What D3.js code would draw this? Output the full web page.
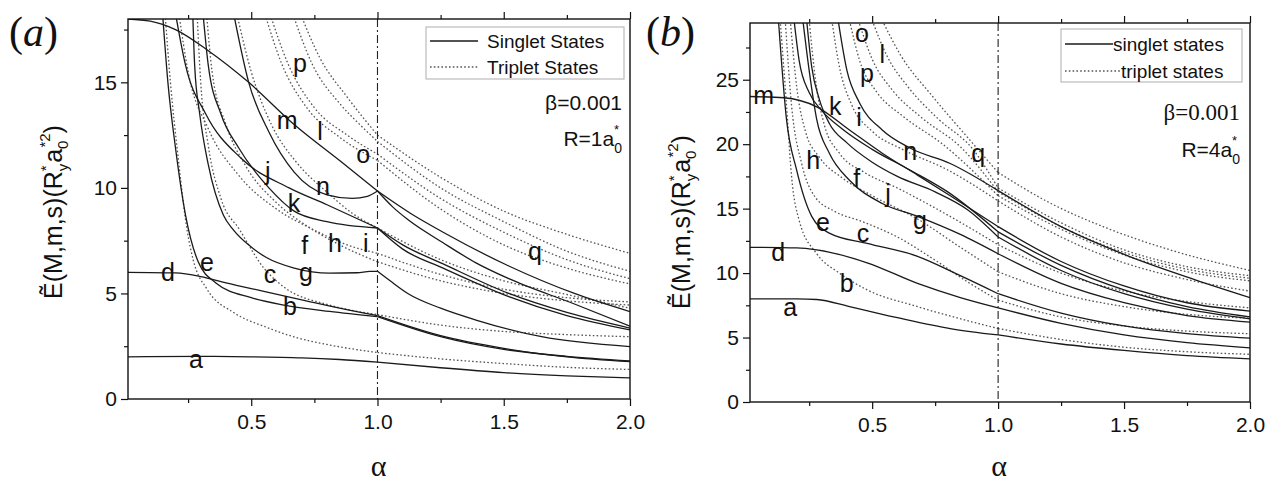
<!DOCTYPE html>
<html><head><meta charset="utf-8">
<script src="https://cdn.jsdelivr.net/npm/d3@7"></script>
<style>html,body{margin:0;padding:0;background:#fff;} svg{display:block}</style>
</head><body><svg id="c" width="1277" height="487"></svg>
<script>
// ---------- DATA ----------
const xMajorTicks = [0.5, 1.0, 1.5, 2.0];
const xMinorTicks = [0.25, 0.75, 1.25, 1.75];
const yTicksA = [0, 5, 10, 15];
const yMinorA = [2.5, 7.5, 12.5, 17.5];
const yTicksB = [0, 5, 10, 15, 20, 25];
const yMinorB = [2.5, 7.5, 12.5, 17.5, 22.5, 27.5];

// Panel (a): R = 1 a0*, singlet states (solid)
const singletA = [
 {id:'a', pts:[[0.012,2.0],[0.3,2.02],[0.5,2.0],[0.7,1.95],[0.85,1.87],[1.0,1.75],[1.25,1.48],[1.5,1.25],[1.75,1.1],[2.0,1.0]]},
 {id:'d', pts:[[0.012,6.0],[0.2,5.97],[0.3,5.8],[0.4,5.5],[0.55,5.1],[0.7,4.7],[0.85,4.3],[1.0,3.95],[1.25,3.0],[1.5,2.4],[1.75,2.0],[2.0,1.77]]},
 {id:'e', pts:[[0.148,18.4],[0.17,15],[0.2,11.9],[0.24,8.7],[0.29,6.5],[0.36,5.5],[0.5,4.8],[0.63,4.45],[0.81,4.15],[1.0,3.9],[1.25,2.95],[1.5,2.35],[1.75,2.02],[2.0,1.8]]},
 {id:'g', pts:[[0.268,18.4],[0.276,15.8],[0.296,13.5],[0.33,11.1],[0.39,8.7],[0.43,8.0],[0.5,7.2],[0.56,6.7],[0.67,6.2],[0.81,5.96],[0.92,5.98],[0.97,6.05],[1.0,6.05],[1.05,5.6],[1.12,5.0],[1.25,4.3],[1.39,3.74],[1.65,2.95],[2.0,2.48]]},
 {id:'j', pts:[[0.198,18.4],[0.24,15.8],[0.32,13.5],[0.46,11.4],[0.65,10.0],[0.8,9.2],[1.0,8.1],[1.1,7.3],[1.26,6.4],[1.52,5.0],[1.75,4.1],[2.0,3.36]]},
 {id:'k', pts:[[0.308,18.4],[0.33,15.8],[0.38,13.5],[0.45,11.9],[0.57,10.0],[0.67,8.9],[0.8,8.4],[1.0,8.1],[1.1,7.1],[1.26,6.2],[1.52,4.85],[1.75,3.95],[2.0,3.27]]},
 {id:'m', pts:[[0.012,18.0],[0.1,17.9],[0.2,17.5],[0.33,16.5],[0.49,15.0],[0.67,13.0],[0.86,11.2],[1.0,9.85],[1.13,8.8],[1.26,7.9],[1.52,6.3],[1.78,5.0],[2.0,4.14]]},
 {id:'n', pts:[[0.428,18.4],[0.49,15],[0.57,12.65],[0.67,10.75],[0.8,9.67],[0.9,9.5],[0.96,9.6],[1.0,9.85],[1.06,9.1],[1.12,8.5],[1.26,7.4],[1.39,6.45],[1.52,5.7],[1.78,4.5],[2.0,3.45]]}
];
// Panel (a): triplet states (dotted)
const tripletA = [
 {id:'b', pts:[[0.158,18.4],[0.18,15],[0.21,11.5],[0.246,8.0],[0.27,6.6],[0.325,5.2],[0.43,4.1],[0.56,3.4],[0.67,2.94],[0.81,2.56],[1.0,2.2],[1.25,1.9],[1.5,1.68],[1.75,1.5],[2.0,1.4]]},
 {id:'c', pts:[[0.285,18.4],[0.3,15],[0.33,12],[0.38,9.5],[0.455,8.0],[0.55,6.2],[0.63,5.3],[0.81,4.45],[1.0,4.0],[1.25,3.5],[1.5,3.2],[1.75,3.05],[2.0,2.95]]},
 {id:'f', pts:[[0.212,18.4],[0.25,15.5],[0.33,12.8],[0.45,10.6],[0.6,9.0],[0.75,8.0],[0.88,7.3],[1.0,6.9],[1.25,5.9],[1.5,5.2],[1.75,4.8],[2.0,4.6]]},
 {id:'h', pts:[[0.322,18.4],[0.345,15.5],[0.4,13.0],[0.48,11.0],[0.6,9.3],[0.72,8.2],[0.85,7.3],[1.0,6.5],[1.25,5.6],[1.5,5.0],[1.75,4.65],[2.0,4.45]]},
 {id:'i', pts:[[0.44,18.4],[0.5,15.5],[0.58,13.0],[0.68,11.2],[0.8,9.8],[0.9,8.8],[1.0,8.1],[1.25,6.6],[1.5,5.6],[1.75,4.95],[2.0,4.3]]},
 {id:'l', pts:[[0.55,18.4],[0.62,15.9],[0.72,13.8],[0.85,12.4],[1.0,11.3],[1.25,9.0],[1.5,7.3],[1.75,6.2],[2.0,5.45]]},
 {id:'o', pts:[[0.57,18.4],[0.645,15.9],[0.75,13.8],[0.88,12.5],[1.0,11.6],[1.25,9.5],[1.5,7.9],[1.75,6.6],[2.0,5.7]]},
 {id:'p', pts:[[0.66,18.4],[0.74,15.9],[0.85,14.0],[0.93,13.0],[1.0,12.2],[1.25,10.0],[1.5,8.4],[1.75,7.0],[2.0,6.05]]},
 {id:'q', pts:[[0.69,18.4],[0.77,16.2],[0.88,14.3],[1.0,12.5],[1.25,10.5],[1.5,8.9],[1.75,7.8],[2.0,6.9]]}
];
const labelsA = [['p',0.693,15.9],['m',0.642,13.2],['l',0.772,12.7],['o',0.943,11.6],['j',0.566,10.8],['n',0.784,10.1],['k',0.669,9.3],
 ['f',0.712,7.3],['h',0.832,7.4],['i',0.954,7.4],['c',0.574,5.9],['g',0.717,6.0],['e',0.325,6.5],['d',0.17,6.0],['b',0.653,4.4],['a',0.281,1.9],['q',1.624,7.0]];

// Panel (b): R = 4 a0*, singlet states (solid)
const singletB = [
 {id:'a', pts:[[0.015,8.0],[0.2,8.0],[0.28,7.95],[0.41,7.4],[0.61,6.5],[0.81,5.7],[1.0,5.2],[1.25,4.5],[1.5,4.0],[1.75,3.6],[2.0,3.35]]},
 {id:'d', pts:[[0.015,12.0],[0.2,11.95],[0.28,11.8],[0.48,10.8],[0.68,9.2],[0.85,8.1],[1.0,7.3],[1.25,6.1],[1.5,5.2],[1.75,4.6],[2.0,4.2]]},
 {id:'e', pts:[[0.128,29.6],[0.16,21.9],[0.2,18],[0.26,14.4],[0.33,13.1],[0.48,12.3],[0.68,11.3],[0.85,9.8],[1.0,8.4],[1.25,6.9],[1.5,5.9],[1.75,5.3],[2.0,4.95]]},
 {id:'g', pts:[[0.225,29.6],[0.25,25.7],[0.28,21.9],[0.33,19.3],[0.41,17.2],[0.54,15.4],[0.68,14.4],[0.85,13.0],[1.0,11.5],[1.25,9.2],[1.5,7.7],[1.75,6.7],[2.0,6.2]]},
 {id:'k', pts:[[0.19,29.6],[0.21,26.5],[0.25,24.0],[0.3,22.6],[0.38,21.2],[0.5,19.6],[0.65,18.0],[0.8,16.3],[1.0,13.2],[1.25,10.6],[1.5,8.7],[1.75,7.4],[2.0,6.6]]},
 {id:'j', pts:[[0.24,29.6],[0.26,26],[0.29,23.5],[0.33,21.6],[0.4,20.1],[0.5,18.6],[0.6,17.5],[0.75,16.3],[0.88,14.9],[1.0,12.8],[1.25,10.2],[1.5,8.4],[1.75,7.2],[2.0,6.45]]},
 {id:'m', pts:[[0.015,23.7],[0.15,23.6],[0.28,22.9],[0.41,21.1],[0.54,19.3],[0.68,17.6],[0.81,16.0],[1.0,13.6],[1.25,10.9],[1.5,9.0],[1.75,7.7],[2.0,7.05]]},
 {id:'n', pts:[[0.365,29.6],[0.4,25.7],[0.45,23.2],[0.54,21.1],[0.65,19.7],[0.81,18.5],[1.0,16.4],[1.25,13.6],[1.52,11.3],[1.78,9.5],[2.0,8.1]]}
];
// Panel (b): triplet states (dotted)
const tripletB = [
 {id:'b', pts:[[0.135,29.6],[0.16,23],[0.18,17.5],[0.21,14.1],[0.28,11.5],[0.37,10.0],[0.48,8.7],[0.68,7.4],[1.0,5.7],[1.25,4.85],[1.5,4.25],[1.75,3.9],[2.0,3.7]]},
 {id:'c', pts:[[0.155,29.6],[0.18,23],[0.22,18.5],[0.27,16.0],[0.35,14.8],[0.46,14.0],[0.6,12.8],[0.75,11.0],[0.88,9.3],[1.0,7.9],[1.25,6.6],[1.5,5.9],[1.75,5.5],[2.0,5.3]]},
 {id:'h', pts:[[0.175,29.6],[0.2,24.5],[0.235,21],[0.29,19.0],[0.38,17.4],[0.5,16.0],[0.68,14.2],[0.85,12.0],[1.0,10.1],[1.25,8.4],[1.5,7.4],[1.75,6.8],[2.0,6.5]]},
 {id:'f', pts:[[0.25,29.6],[0.275,25],[0.31,21.5],[0.37,19.3],[0.47,17.8],[0.6,16.6],[0.8,14.5],[1.0,12.2],[1.25,10.0],[1.5,8.6],[1.75,7.8],[2.0,7.3]]},
 {id:'i', pts:[[0.34,29.6],[0.37,26],[0.42,23],[0.5,21],[0.62,19.6],[0.8,18.0],[1.0,15.6],[1.25,12.8],[1.5,10.8],[1.75,9.5],[2.0,8.6]]},
 {id:'o', pts:[[0.41,29.6],[0.45,26.5],[0.52,24],[0.62,22.2],[0.78,20.0],[1.0,16.0],[1.25,13.4],[1.5,11.4],[1.75,10.1],[2.0,9.4]]},
 {id:'p', pts:[[0.445,29.6],[0.5,26.6],[0.58,24.2],[0.7,22.0],[0.85,19.8],[1.0,16.3],[1.25,13.6],[1.5,11.6],[1.75,10.3],[2.0,9.6]]},
 {id:'l', pts:[[0.5,29.6],[0.56,26.8],[0.64,24.5],[0.76,22.0],[0.9,19.6],[1.0,16.6],[1.25,13.9],[1.5,11.8],[1.75,10.5],[2.0,9.8]]},
 {id:'q', pts:[[0.54,29.6],[0.61,27],[0.74,23.7],[0.88,20.5],[1.0,17.8],[1.2,15.5],[1.43,13.5],[1.7,11.7],[2.0,10.2]]}
];
const labelsB = [['o',0.459,28.6],['l',0.54,27.0],['p',0.479,25.5],['m',0.069,23.8],['k',0.353,23.0],['i',0.448,22.1],['n',0.651,19.5],
 ['q',0.921,19.3],['h',0.266,18.8],['f',0.439,17.4],['j',0.563,16.2],['e',0.305,14.0],['g',0.690,14.1],['c',0.464,13.1],['d',0.127,11.6],['b',0.399,9.2],['a',0.175,7.4]];

// ---------- DRAW ----------
const svg = d3.select('#c');
const SANS = '"Liberation Sans", Arial, Helvetica, sans-serif';
const SERIF = '"Liberation Serif", "Times New Roman", serif';
const defs = svg.append('defs');

function panel(o){
  const x = d3.scaleLinear().domain(o.xDomain).range([o.left, o.right]);
  const y = d3.scaleLinear().domain(o.yDomain).range([o.bottom, o.top]);
  const g = svg.append('g');
  defs.append('clipPath').attr('id','clip'+o.id).append('rect')
    .attr('x',o.left).attr('y',o.top).attr('width',o.right-o.left).attr('height',o.bottom-o.top);

  const styleAxis = sel => { sel.select('.domain').remove();
    sel.selectAll('line').attr('stroke','#111').attr('stroke-width',1.2);
    sel.selectAll('text').attr('font-family',SANS).attr('font-size',21).attr('fill','#111'); };

  g.append('g').attr('transform',`translate(${o.left},0)`)
    .call(d3.axisLeft(y).tickValues(o.yTicks).tickSize(7).tickPadding(4).tickFormat(d3.format('d'))).call(styleAxis);
  g.append('g').attr('transform',`translate(${o.left},0)`)
    .call(d3.axisLeft(y).tickValues(o.yMinor).tickSize(4).tickFormat('')).call(styleAxis);
  g.append('g').attr('transform',`translate(0,${o.bottom})`)
    .call(d3.axisBottom(x).tickValues(xMajorTicks).tickSize(7).tickPadding(8).tickFormat(d3.format('.1f'))).call(styleAxis);
  g.append('g').attr('transform',`translate(0,${o.bottom})`)
    .call(d3.axisBottom(x).tickValues(xMinorTicks).tickSize(4).tickFormat('')).call(styleAxis);
  g.append('g').attr('transform',`translate(0,${o.top})`)
    .call(d3.axisTop(x).tickValues(xMajorTicks).tickSize(7).tickFormat('')).call(styleAxis);
  g.append('g').attr('transform',`translate(0,${o.top})`)
    .call(d3.axisTop(x).tickValues(xMinorTicks).tickSize(4).tickFormat('')).call(styleAxis);

  const line = d3.line().x(d=>x(d[0])).y(d=>y(d[1])).curve(d3.curveMonotoneX);
  const plot = g.append('g').attr('clip-path',`url(#clip${o.id})`);
  const drawSeries = (arr, dashed) => arr.forEach(s => {
    const segs = [s.pts.filter(p=>p[0]<=1.0001), s.pts.filter(p=>p[0]>=0.9999)];
    segs.forEach(seg => { if (seg.length<2) return;
      plot.append('path').attr('d',line(seg)).attr('fill','none')
        .attr('stroke', dashed ? '#555' : '#1a1a1a')
        .attr('stroke-width', 1.3)
        .attr('stroke-dasharray', dashed ? '1.6,2.2' : null);
    });
  });
  drawSeries(o.triplets, true);
  drawSeries(o.singlets, false);

  // vertical dash-dot line at alpha = 1
  g.append('line').attr('x1',x(1)).attr('x2',x(1)).attr('y1',o.top).attr('y2',o.bottom)
    .attr('stroke','#222').attr('stroke-width',1.1).attr('stroke-dasharray','8,3,2,3');

  // frame
  g.append('rect').attr('x',o.left).attr('y',o.top).attr('width',o.right-o.left).attr('height',o.bottom-o.top)
    .attr('fill','none').attr('stroke','#111').attr('stroke-width',1.4);

  // curve labels
  g.selectAll('text.lbl').data(o.labels).enter().append('text')
    .attr('x',d=>x(d[1])).attr('y',d=>y(d[2])).attr('text-anchor','middle').attr('dominant-baseline','central')
    .attr('font-family',SANS).attr('font-size',25).attr('fill','#111').text(d=>d[0]);

  // x title
  g.append('text').attr('x',x(1)+1).attr('y',476).attr('text-anchor','middle')
    .attr('font-family',SERIF).attr('font-size',30).attr('fill','#111').text('α');

  // y title
  const yt = g.append('text').attr('transform',`translate(${o.ytX},${o.ytY}) rotate(-90)`).attr('text-anchor','middle')
    .attr('font-family',SANS).attr('font-size',25).attr('fill','#111');
  yt.append('tspan').text('Ẽ(M,m,s)(R');
  yt.append('tspan').attr('font-size',15).attr('dy',-11).text('*');
  yt.append('tspan').attr('font-size',15).attr('dx',-6).attr('dy',17).text('y');
  yt.append('tspan').attr('dx',1).attr('dy',-6).text('a');
  yt.append('tspan').attr('font-size',15).attr('dy',6).text('0');
  yt.append('tspan').attr('font-size',15).attr('dx',-7).attr('dy',-18).text('*2');
  yt.append('tspan').attr('dy',12).text(')');

  // panel tag
  const pt = g.append('text').attr('x',o.tagX).attr('y',46).attr('font-family',SERIF).attr('font-size',42).attr('fill','#111');
  pt.append('tspan').text('(');
  pt.append('tspan').attr('font-style','italic').text(o.tag);
  pt.append('tspan').text(')');

  // legend
  const L = o.legend;
  g.append('rect').attr('x',L.x).attr('y',L.y).attr('width',L.w).attr('height',L.h)
    .attr('fill','#fff').attr('stroke','#bbb').attr('stroke-width',1.2);
  g.append('line').attr('x1',L.x+4).attr('x2',L.s1).attr('y1',L.y+L.r1).attr('y2',L.y+L.r1).attr('stroke','#1a1a1a').attr('stroke-width',1.3);
  g.append('line').attr('x1',L.x+4).attr('x2',L.s2).attr('y1',L.y+L.r2).attr('y2',L.y+L.r2).attr('stroke','#555').attr('stroke-width',1.3).attr('stroke-dasharray','1.6,2.2');
  g.append('text').attr('x',L.t1).attr('y',L.y+L.r1).attr('dominant-baseline','central').attr('font-family',SANS).attr('font-size',19).attr('fill','#111').text(L.txt1);
  g.append('text').attr('x',L.t2).attr('y',L.y+L.r2).attr('dominant-baseline','central').attr('font-family',SANS).attr('font-size',19).attr('fill','#111').text(L.txt2);

  // annotations
  g.append('text').attr('x',o.annX).attr('y',o.betaY).attr('text-anchor','end').attr('font-family',o.betaFont)
    .attr('font-size',o.betaSize).attr('fill','#111').text('β=0.001');
  const rt = g.append('text').attr('x',o.annX).attr('y',o.rY).attr('text-anchor','end').attr('font-family',SANS)
    .attr('font-size',21).attr('fill','#111');
  rt.append('tspan').text(o.rText);
  rt.append('tspan').attr('font-size',14).attr('dy',7).text('0');
  rt.append('tspan').attr('font-size',13).attr('dx',-8).attr('dy',-19).text('*');
  rt.append('tspan').attr('font-size',13).attr('dy',12).text('\u200A');
}

panel({id:'A', left:128, right:630, top:19, bottom:399, xDomain:[0.012,2.0], yDomain:[0,18],
  yTicks:yTicksA, yMinor:yMinorA, singlets:singletA, triplets:tripletA, labels:labelsA,
  ytX:62, ytY:212, tag:'a', tagX:9,
  legend:{x:426,y:27,w:198,h:52,r1:14,r2:40,s1:478,s2:478,t1:487,t2:487,txt1:'Singlet States',txt2:'Triplet States'},
  annX:622, betaY:110, betaFont:SANS, betaSize:21, rY:146, rText:'R=1a'});

panel({id:'B', left:750, right:1250, top:23, bottom:402, xDomain:[0.015,2.0], yDomain:[0,29.4],
  yTicks:yTicksB, yMinor:yMinorB, singlets:singletB, triplets:tripletB, labels:labelsB,
  ytX:690, ytY:222, tag:'b', tagX:646,
  legend:{x:1061,y:29,w:181,h:53,r1:15,r2:42,s1:1113,s2:1120,t1:1113,t2:1121,txt1:'singlet states',txt2:'triplet states'},
  annX:1240, betaY:120, betaFont:'"Liberation Serif", "DejaVu Serif", serif', betaSize:23, rY:157, rText:'R=4a'});
</script></body></html>
